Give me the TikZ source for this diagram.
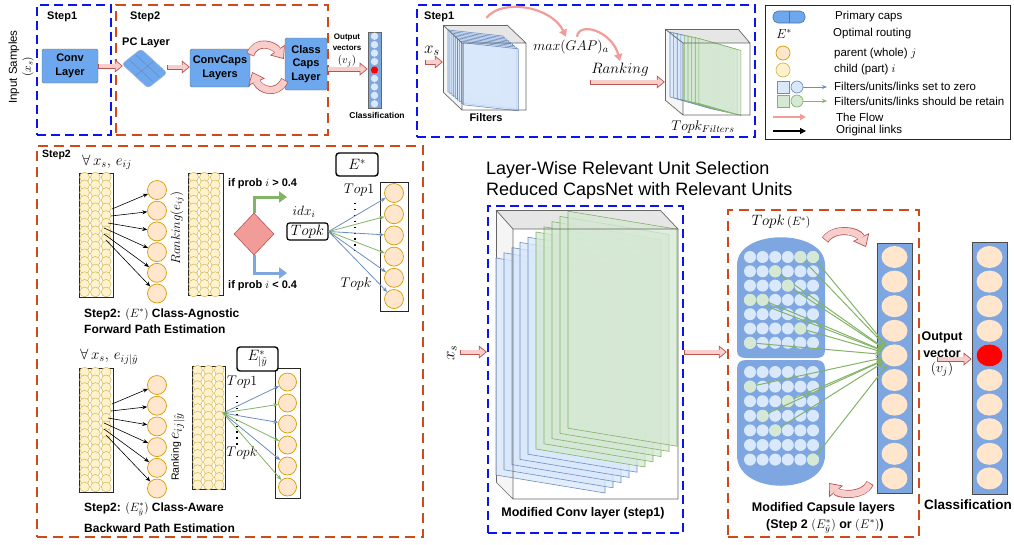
\RequirePackage{fix-cm}
\documentclass[tikz,border=0pt]{standalone}
\usepackage[no-math]{fontspec}
\setmainfont{Liberation Sans}
\usetikzlibrary{shapes.geometric,arrows.meta,calc}
\definecolor{dashblue}{HTML}{0A14F0}
\definecolor{dashorange}{HTML}{CF4A17}
\definecolor{layerfill}{HTML}{6DA8EE}
\definecolor{capfill}{HTML}{7EA6E0}
\definecolor{lblue}{HTML}{DAE8FC}
\definecolor{bline}{HTML}{6C8EBF}
\definecolor{lgreen}{HTML}{D5E8D4}
\definecolor{gline}{HTML}{82B366}
\definecolor{peach}{HTML}{FFE6CC}
\definecolor{peachline}{HTML}{D79B00}
\definecolor{lyellow}{HTML}{FFF2CC}
\definecolor{yline}{HTML}{D6B656}
\definecolor{flowfill}{HTML}{F8CECC}
\definecolor{flowline}{HTML}{B85450}
\definecolor{pinkline}{HTML}{F19C99}
\definecolor{sidegray}{HTML}{F5F5F5}
\definecolor{topgray}{HTML}{E6E6E6}
\definecolor{cubeline}{HTML}{666666}
\newcommand{\sheet}[6]{\draw[#1] (#2,#3) -- ++(#4,#6) -- ++(0,#5) -- ++(-#4,-#6) -- cycle;}
\newcommand{\ygrid}[1]{\foreach \cc in {0,1,2}{\foreach \rr in {0,...,15}{\draw[ycirc] ($(#1.north west)+(6+10.8*\cc,4.6+7.65*\rr)$) circle (4.9pt);}}}
\begin{document}
\begin{tikzpicture}[x=1pt,y=-1pt,
 bluebox/.style={draw=dashblue,line width=2.4pt,dash pattern=on 9pt off 5pt,inner sep=0},
 orangebox/.style={draw=dashorange,line width=2.4pt,dash pattern=on 10pt off 6pt,inner sep=0},
 layer/.style={draw=black!55,fill=layerfill,rounded corners=1.5pt,font=\fontsize{11}{13.5}\selectfont\bfseries,align=center,inner sep=0},
 flow/.style={draw=flowline,line width=5pt,-{Triangle[length=8pt,width=13pt,line width=0.7pt,fill=flowfill]},postaction={draw=flowfill,line width=3.6pt,-,shorten >=7pt,shorten <=0.7pt}},
 flowbig/.style={draw=flowline,line width=8pt,-{Triangle[length=11pt,width=18pt,line width=0.7pt,fill=flowfill]},postaction={draw=flowfill,line width=6.6pt,-,shorten >=10pt,shorten <=0.7pt}},
 thinpink/.style={draw=pinkline,line width=2.2pt,-{Triangle[length=7pt,width=8pt]}},
 lab/.style={inner sep=0,font=\fontsize{11.5}{13}\selectfont},
 blab/.style={inner sep=0,font=\fontsize{11}{13}\selectfont\bfseries},
 ycirc/.style={draw=yline,fill=lyellow,line width=0.5pt},
 pcirc/.style={circle,draw=peachline,fill=peach,line width=0.7pt,minimum size=19pt,inner sep=0},
 gridbox/.style={draw=black!85,line width=0.8pt,fill=white,inner sep=0},
 blink/.style={draw=bline,line width=0.8pt,-{Stealth[length=5pt,width=4pt]}},
 glink/.style={draw=gline,line width=0.8pt,-{Stealth[length=5pt,width=4pt]}},
 klink/.style={draw=black,line width=0.6pt,-{Stealth[length=5pt,width=4pt]}},
 bsheet/.style={draw=bline,fill=lblue,fill opacity=0.75,line width=0.6pt},
 gsheet/.style={draw=gline,fill=lgreen,fill opacity=0.75,line width=0.6pt},
 cube/.style={draw=cubeline,line width=0.7pt},
 mbox/.style={draw=black,fill=white,line width=1.4pt,rounded corners=3pt,inner sep=0},
 bcirc/.style={circle,fill=lblue,minimum size=12pt,inner sep=0},
 gcirc/.style={circle,fill=lgreen,minimum size=12pt,inner sep=0},
 capell/.style={ellipse,fill=peach,minimum width=26pt,minimum height=22pt,inner sep=0},
 capcol/.style={draw=black!70,fill=capfill,line width=0.8pt,inner sep=0},
 gfan/.style={draw=gline,line width=1pt,-{Stealth[length=6pt,width=5pt]}},
 capt/.style={inner sep=0,font=\fontsize{12}{14}\selectfont\bfseries}
]
\useasboundingbox (0,0) rectangle (1014,544);

% ================= top-left pipeline =================
\node[inner sep=0,rotate=90,font=\fontsize{11.5}{13}\selectfont] (inp) at (14,67) {Input Samples};
\node[inner sep=0,rotate=90,font=\fontsize{11.5}{13}\selectfont] (inpx) at (28,67) {$(x_s)$};
\node[bluebox,minimum width=74,minimum height=130] (s1box) at (74,70) {};
\node[blab,anchor=west] (s1lab) at (47,17) {Step1};
\node[orangebox,minimum width=212,minimum height=130] (s2box) at (222,70) {};
\node[blab,anchor=west] (s2lab) at (130,17) {Step2};
\node[layer,minimum width=56,minimum height=34] (conv) at (70,66) {Conv\\Layer};
\node[blab,anchor=west] (pclab) at (122,43) {PC Layer};
\node[minimum width=44,minimum height=20,inner sep=0] (pc) at (145,67) {};
\begin{scope}[shift={(122,64)},x={(26pt,-24pt)},y={(19pt,15pt)}]
 \draw[draw=bline!70,fill=layerfill,rounded corners=3pt,line width=0.6pt] (0,0) -- (1,0) -- (1,1) -- (0,1) -- cycle;
 \draw[draw=bline,line width=0.6pt] (0.04,1/3) -- (0.96,1/3) (0.04,2/3) -- (0.96,2/3) (0.5,0.04) -- (0.5,0.96);
\end{scope}
\node[layer,minimum width=60,minimum height=38] (convcaps) at (220,68) {ConvCaps\\Layers};
\node[layer,minimum width=42,minimum height=52] (classcaps) at (306,64) {Class\\Caps\\Layer};
\draw[flow] (conv.east) -- (conv.east -| pc.west);
\draw[flow] (pc.east) -- (pc.east -| convcaps.west);
\draw[flowbig] ($(convcaps.north east)+(0,6)$) .. controls +(6,-16) and +(-10,-14) .. ($(classcaps.west)+(-1,-5)$);
\draw[flowbig] ($(classcaps.west)+(0,16)$) .. controls +(-8,16) and +(8,18) .. ($(convcaps.east)+(2,4)$);
\node[draw=black!60,fill=capfill,minimum width=13,minimum height=76,inner sep=0,line width=0.6pt] (vec) at (374.5,70) {};
\foreach \k in {0,...,8}{\fill[lblue] (374.5,36.2+8.45*\k) circle (3.7pt);}
\fill[red] (374.5,36.2+8.45*4) circle (3.7pt);
\coordinate (ccout) at ($(classcaps.east)+(0,5)$);
\draw[flow] (ccout) -- (ccout -| vec.west);
\node[inner sep=0,font=\fontsize{8}{9}\selectfont\bfseries] (outl) at (347,38) {Output};
\node[inner sep=0,font=\fontsize{8}{9}\selectfont\bfseries] (outv) at (347,48) {vectors};
\node[inner sep=0,font=\fontsize{11}{12}\selectfont] (outvj) at (347,61) {$(v_j)$};
\node[inner sep=0,font=\fontsize{8.5}{10}\selectfont\bfseries] (cls1) at (377,115) {Classification};

% ================= top-middle step1 =================
\node[bluebox,minimum width=338,minimum height=132] (s1mid) at (586,71) {};
\node[blab,anchor=west] (s1mlab) at (424,17) {Step1};
\node[inner sep=0,minimum width=83,minimum height=85] (cubeL) at (484.5,67.5) {};
\fill[sidegray] (443,25) -- (462,43) -- (462,110) -- (443,92) -- cycle;
\fill[topgray] (443,25) -- (507,25) -- (526,43) -- (462,43) -- cycle;
\draw[cube] (443,25) -- (507,25) (443,25) -- (443,92);
\foreach \k in {0,...,8}{\sheet{bsheet}{448+1.9*\k}{30+1.6*\k}{55}{62}{6}}
\draw[cube] (462,43) rectangle (526,110) (443,25) -- (462,43) (507,25) -- (526,43) (443,92) -- (462,110);
\node[inner sep=0,font=\fontsize{17}{19}\selectfont] (xs1) at (432,51) {$x_s$};
\coordinate (xsa1) at (425,62);
\draw[flow] (xsa1) -- (xsa1 -| cubeL.west);
\node[blab] (filt) at (486,118) {Filters};
\node[inner sep=0,font=\fontsize{14}{16}\selectfont] (gap) at (571,47) {$max(GAP)_a$};
\node[inner sep=0,font=\fontsize{15}{17}\selectfont] (rank) at (620,70) {$Ranking$};
\coordinate (arcA) at ($(cubeL.north)+(2,-7)$);
\coordinate (arcB) at ($(gap.north)+(-5,-3)$);
\draw[thinpink] (arcA) .. controls +(16,-20) and +(-14,-30) .. (arcB);
\coordinate (arcC) at ($(gap.north)+(6,-3)$);
\coordinate (arcD) at ($(rank.north)+(0,-2)$);
\draw[thinpink] (arcC) .. controls +(2,-16) and +(-8,-30) .. (arcD);
\node[inner sep=0,minimum width=85,minimum height=86] (cubeR) at (707.5,72) {};
\coordinate (rka) at (590,82);
\draw[flow] (rka) -- (rka -| cubeR.west);
\fill[sidegray] (665,29) -- (683,43) -- (683,115) -- (665,100) -- cycle;
\fill[topgray] (665,29) -- (738,29) -- (750,43) -- (683,43) -- cycle;
\draw[cube] (665,29) -- (738,29) (665,29) -- (665,100);
\foreach \k in {0,...,3}{\sheet{bsheet}{670+3.6*\k}{32+0.8*\k}{42}{65}{12}}
\foreach \k in {4,...,8}{\sheet{gsheet}{670+3.6*\k}{32+0.8*\k}{42}{65}{12}}
\draw[cube] (683,43) rectangle (750,115) (665,29) -- (683,43) (738,29) -- (750,43) (665,100) -- (683,115);
\node[inner sep=0,font=\fontsize{14}{16}\selectfont] (topkf) at (703,127) {$Topk_{Filters}$};

% ================= legend =================
\node[draw=black!85,line width=0.8pt,minimum width=245,minimum height=134,inner sep=0] (leg) at (887.5,72) {};
\draw[draw=bline!80!black,fill=layerfill,rounded corners=5pt,line width=0.6pt] (773,11) rectangle (805,23);
\draw[draw=bline!80!black,line width=0.6pt] (789,11) -- (789,23);
\node[lab,anchor=west] (l1) at (835,17) {Primary caps};
\node[inner sep=0,font=\fontsize{13}{15}\selectfont] (l2s) at (784,34) {$E^*$};
\node[lab,anchor=west] (l2) at (833,34) {Optimal routing};
\node[circle,draw=peachline,fill=peach,minimum size=14pt,inner sep=0,line width=0.7pt] (l3s) at (783,53) {};
\node[lab,anchor=west] (l3) at (834,54) {parent (whole) $j$};
\node[circle,draw=yline,fill=lyellow,minimum size=14pt,inner sep=0,line width=0.7pt] (l4s) at (783,70) {};
\node[lab,anchor=west] (l4) at (834,70) {child (part) $i$};
\node[draw=bline,fill=lblue,minimum size=12pt,inner sep=0,line width=0.7pt] (l5a) at (783,87) {};
\node[circle,draw=bline,fill=lblue,minimum size=12pt,inner sep=0,line width=0.7pt] (l5b) at (797,87) {};
\coordinate (l5e) at (827,87);
\draw[blink,line width=1pt] (l5b.east) -- (l5e);
\node[lab,anchor=west] (l5) at (834,86) {Filters/units/links set to zero};
\node[draw=gline,fill=lgreen,minimum size=12pt,inner sep=0,line width=0.7pt] (l6a) at (783,101) {};
\node[circle,draw=gline,fill=lgreen,minimum size=12pt,inner sep=0,line width=0.7pt] (l6b) at (797,101) {};
\coordinate (l6e) at (827,101);
\draw[glink,line width=1pt] (l6b.east) -- (l6e);
\node[lab,anchor=west] (l6) at (834,101) {Filters/units/links should be retain};
\coordinate (l7a) at (773,117); \coordinate (l7b) at (806,117);
\draw[draw=pinkline,line width=1.5pt,-{Triangle[length=6pt,width=6pt]}] (l7a) -- (l7b);
\node[lab,anchor=west] (l7) at (836,117) {The Flow};
\coordinate (l8a) at (773,131); \coordinate (l8b) at (806,131);
\draw[draw=black,line width=1.2pt,-{Triangle[length=6pt,width=6pt]}] (l8a) -- (l8b);
\node[lab,anchor=west] (l8) at (836,131) {Original links};

% ================= lower-left step2 =================
\node[orangebox,minimum width=386,minimum height=391] (s2low) at (230,341.5) {};
\node[inner sep=0,font=\fontsize{10.5}{12}\selectfont\bfseries,anchor=west] (s2llab) at (42,155) {Step2};
% --- class-agnostic
\node[inner sep=0,anchor=west,font=\fontsize{15}{17}\selectfont] (fa1) at (82,162) {$\forall\, x_s,\, e_{ij}$};
\node[gridbox,minimum width=34,minimum height=124] (g1) at (96,235) {};
\ygrid{g1}
\foreach \k in {1,...,6}{\node[pcirc] (c\k) at (157,190+20.7*\k-20.7) {};}
\coordinate (s1) at (112,209); \coordinate (s2) at (111,216); \coordinate (s3) at (108,223);
\coordinate (s4) at (104,228); \coordinate (s5) at (104,234); \coordinate (s6) at (106,240);
\foreach \k in {1,...,6}{\draw[klink] (s\k) -- (c\k);}
\node[inner sep=0,rotate=90,font=\fontsize{13}{15}\selectfont] (rk1) at (177,228) {$Ranking(e_{ij})$};
\node[gridbox,minimum width=35,minimum height=122] (g2) at (205.5,234) {};
\ygrid{g2}
\node[diamond,draw=flowline,fill=pinkline,minimum width=40pt,minimum height=42pt,inner sep=0,line width=0.6pt] (dm) at (254,234) {};
\coordinate (gend) at (287,197); \coordinate (bend) at (287,273);
\draw[draw=gline,line width=3pt,-{Triangle[length=8pt,width=11pt]}] (dm.north) |- (gend);
\draw[draw=capfill,line width=3pt,-{Triangle[length=8pt,width=11pt]}] (dm.south) |- (bend);
\node[blab,anchor=west] (pg) at (228,184) {if prob $i$ > 0.4};
\node[blab,anchor=west] (pl) at (228,286) {if prob $i$ < 0.4};
\node[inner sep=0,font=\fontsize{13.5}{15}\selectfont] (idx) at (304,212) {$idx_i$};
\node[draw=black,line width=1.2pt,rounded corners=2.5pt,minimum width=41,minimum height=17,inner sep=0,font=\fontsize{15}{17}\selectfont] (tk) at (307.5,231.5) {$Topk$};
\node[mbox,minimum width=42,minimum height=23,font=\fontsize{15}{17}\selectfont] (es1) at (357,164.5) {$E^*$};
\node[gridbox,minimum width=28,minimum height=129] (rr1) at (394,246.5) {};
\foreach \k in {1,...,6}{\node[pcirc] (r\k) at (394,193+21.2*\k-21.2) {};}
\node[inner sep=0,font=\fontsize{14}{16}\selectfont] (top1a) at (359,190) {$Top1$};
\node[inner sep=0,font=\fontsize{14}{16}\selectfont] (topka) at (356,284) {$Topk$};
\coordinate (dt1) at (355,203); \coordinate (dt2) at (355,251);
\draw[line width=1.4pt,dash pattern=on 1.4pt off 4.5pt] (dt1) -- (dt2);
\foreach \k/\st in {1/blink,2/glink,3/blink,4/glink,5/blink,6/blink}{\draw[\st] (tk.east) -- (r\k);}
\node[capt,anchor=west] (cap1a) at (84,314) {Step2: $(E^*)$ Class-Agnostic};
\node[capt,anchor=west] (cap1b) at (84,329) {Forward Path Estimation};
% --- class-aware
\node[inner sep=0,anchor=west,font=\fontsize{15}{17}\selectfont] (fa2) at (80,357) {$\forall\, x_s,\, e_{ij|\hat{y}}$};
\node[gridbox,minimum width=34,minimum height=124] (g3) at (96,430) {};
\ygrid{g3}
\foreach \k in {1,...,6}{\node[pcirc] (d\k) at (157,385+20.7*\k-20.7) {};}
\coordinate (t1) at (112,404); \coordinate (t2) at (111,411); \coordinate (t3) at (108,418);
\coordinate (t4) at (104,423); \coordinate (t5) at (104,429); \coordinate (t6) at (106,435);
\foreach \k in {1,...,6}{\draw[klink] (t\k) -- (d\k);}
\node[inner sep=0,rotate=90] (rk2) at (178,447) {{\fontsize{10.5}{12}\selectfont Ranking} {\fontsize{16}{18}\selectfont $e_{ij|\hat{y}}$}};
\node[gridbox,minimum width=33,minimum height=123] (g4) at (208.5,427.5) {};
\ygrid{g4}
\node[gridbox,minimum width=25,minimum height=130] (rr2) at (287.5,433) {};
\foreach \k in {1,...,6}{\node[pcirc,minimum size=18pt] (q\k) at (287.5,382+21*\k-21) {};}
\node[mbox,minimum width=41,minimum height=24,font=\fontsize{15}{17}\selectfont] (es2) at (257.5,359) {$E^*_{|\hat{y}}$};
\node[inner sep=0,font=\fontsize{14}{16}\selectfont] (top1b) at (242,382) {$Top1$};
\node[inner sep=0,font=\fontsize{14}{16}\selectfont] (topkb) at (242,453) {$Topk$};
\coordinate (du1) at (237,396); \coordinate (du2) at (237,446);
\draw[line width=1.4pt,dash pattern=on 1.4pt off 4.5pt] (du1) -- (du2);
\coordinate (src2) at (223,413);
\foreach \k/\st in {1/blink,2/glink,3/blink,4/glink,5/blink,6/glink}{\draw[\st] (src2) -- (q\k);}
\node[capt,anchor=west] (cap2a) at (84,509) {Step2: $(E^*_{\hat{y}})$ Class-Aware};
\node[capt,anchor=west] (cap2b) at (84,528) {Backward Path Estimation};

% ================= middle: modified conv =================
\node[inner sep=0,anchor=west,font=\fontsize{18}{20}\selectfont] (title1) at (486,170) {Layer-Wise Relevant Unit Selection};
\node[inner sep=0,anchor=west,font=\fontsize{18}{20}\selectfont] (title2) at (486,191) {Reduced CapsNet with Relevant Units};
\node[bluebox,minimum width=195,minimum height=327] (convbox) at (585.5,369.5) {};
\fill[sidegray] (496,210) -- (513,229) -- (513,499) -- (496,482) -- cycle;
\fill[topgray] (496,210) -- (660,210) -- (678,229) -- (513,229) -- cycle;
\draw[cube] (496,210) -- (660,210) (496,210) -- (496,482);
\foreach \k in {0,...,4}{\sheet{bsheet}{496+8*\k}{258-5.2*\k}{109}{217}{18}}
\foreach \k in {5,...,9}{\sheet{gsheet}{496+8*\k}{258-5.2*\k}{109}{217}{18}}
\draw[cube] (513,229) rectangle (678,499) (496,210) -- (513,229) (660,210) -- (678,229) (496,482) -- (513,499);
\node[inner sep=0,font=\fontsize{12.5}{14}\selectfont\bfseries] (mcl) at (583,513) {Modified Conv layer (step1)};
\node[inner sep=0,rotate=90,font=\fontsize{17}{19}\selectfont] (xs2) at (452,353) {$x_s$};
\coordinate (xsa2) at (460,352);
\draw[flow] (xsa2) -- (xsa2 -| convbox.west);

% ================= right: capsules =================
\node[orangebox,minimum width=191,minimum height=327] (capbox) at (823.5,373.5) {};
\draw[flow] ($(convbox.east)+(0,-17.5)$) -- ($(capbox.west)+(0,-21.5)$);
\fill[capfill] (737,350) -- (737,265) .. controls (737,228) and (825,228) .. (825,265) -- (825,350) .. controls (825,356) and (822,358) .. (816,358) -- (746,358) .. controls (740,358) and (737,356) .. (737,350) -- cycle;
\fill[capfill] (737,369) .. controls (737,363) and (740,360) .. (746,360) -- (816,360) .. controls (822,360) and (825,363) .. (825,369) -- (825,455) .. controls (825,496) and (737,496) .. (737,455) -- cycle;
\foreach \r in {0,...,6}{\foreach \c in {0,...,5}{
  \node[bcirc] at (750+12.6*\c,257+14.3*\r) {};
  \node[bcirc] at (750+12.6*\c,372+14.6*\r) {};}}
\node[inner sep=0,font=\fontsize{15}{17}\selectfont] (tke) at (781,222) {$Topk$\,{\fontsize{12}{14}\selectfont$(E^*)$}};
\node[capcol,minimum width=35,minimum height=250] (col1) at (894.5,368) {};
\foreach \k in {1,...,10}{\node[capell] (e\k) at (894.5,257+24.6*\k-24.6) {};}
\foreach \r/\c in {0/4,0/5,1/2,2/3,3/0,3/1,5/4,6/0}{
  \node[gcirc] (gu\r\c) at (750+12.6*\c,257+14.3*\r) {};
  \draw[gfan] (gu\r\c) -- (e5);}
\foreach \r/\c in {1/0,2/3,3/1,4/2,6/5}{
  \node[gcirc] (gl\r\c) at (750+12.6*\c,372+14.6*\r) {};
  \draw[gfan] (gl\r\c) -- (e5);}
\coordinate (cta) at (825,240); \coordinate (ctb) at (866,247);
\draw[flowbig] (cta) .. controls +(10,-14) and +(-8,-16) .. (ctb);
\coordinate (cba) at (870,483); \coordinate (cbb) at (829,483);
\draw[flowbig] (cba) .. controls +(-6,14) and +(10,12) .. (cbb);
\node[capcol,minimum width=35,minimum height=252] (col2) at (989.5,368) {};
\foreach \k in {1,...,10}{\node[capell] (f\k) at (989.5,257+24.6*\k-24.6) {};}
\node[capell,fill=red] (fred) at (f5) {};
\coordinate (ov) at (937,359);
\draw[flow] (ov) -- (ov -| col2.west);
\node[inner sep=0,font=\fontsize{12.5}{14}\selectfont\bfseries] (ovt1) at (942,337) {Output};
\node[inner sep=0,font=\fontsize{12.5}{14}\selectfont\bfseries] (ovt2) at (942,353) {vector};
\node[inner sep=0,font=\fontsize{14}{16}\selectfont] (ovt3) at (942,369) {$(v_j)$};
\node[inner sep=0,font=\fontsize{13.5}{15}\selectfont\bfseries] (cls2) at (968,505) {Classification};
\node[inner sep=0,font=\fontsize{12.5}{14}\selectfont\bfseries] (mcap1) at (823.5,508) {Modified Capsule layers};
\node[inner sep=0,font=\fontsize{12.5}{14}\selectfont\bfseries] (mcap2) at (825,526) {(Step 2 $(E^*_{\hat{y}})$ or $(E^*)$)};
\end{tikzpicture}
\end{document}
